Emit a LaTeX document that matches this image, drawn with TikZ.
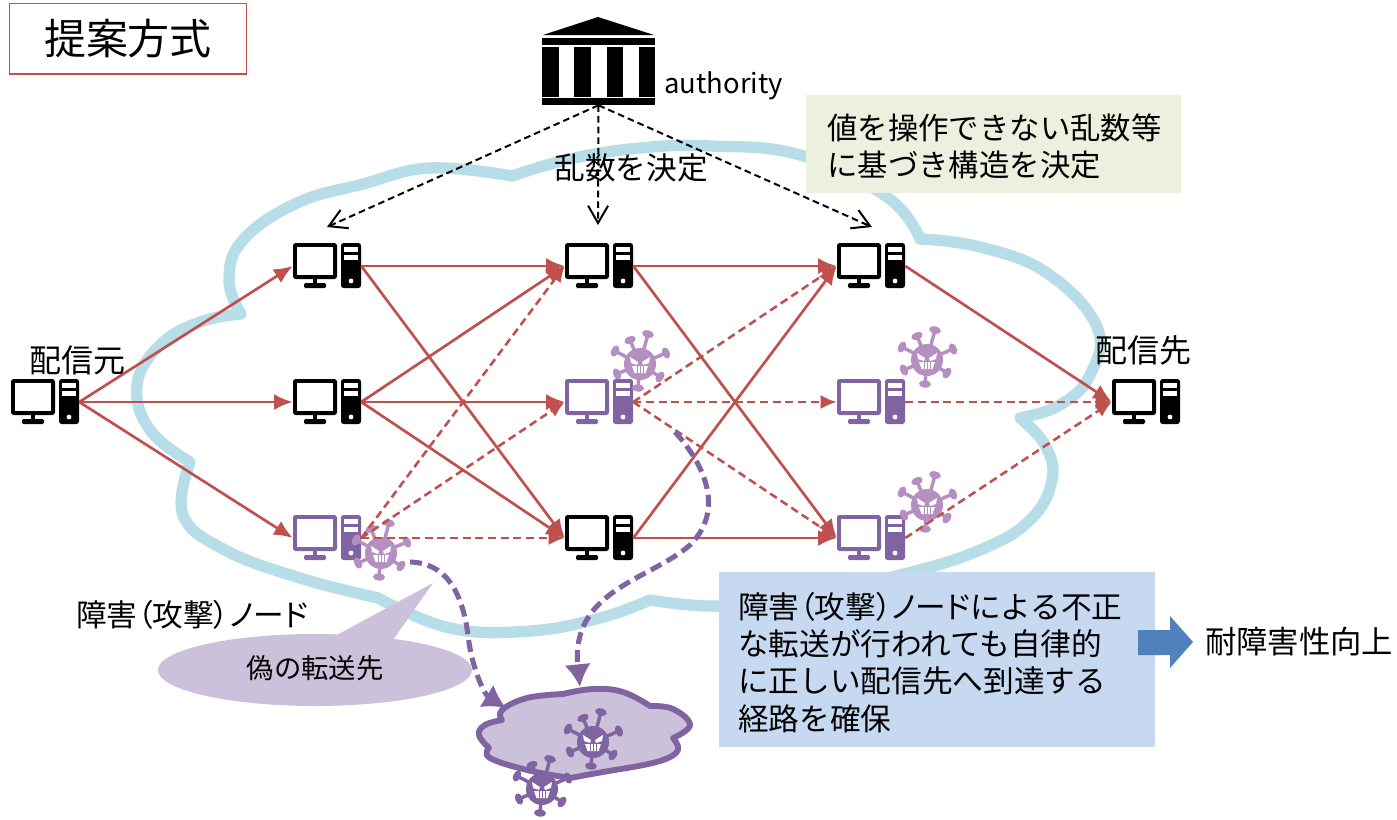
\documentclass[tikz,border=0pt]{standalone}
\usepackage{fontspec}
\setmainfont{Noto Sans CJK JP}
\newfontfamily\palt[RawFeature=+palt]{Noto Sans CJK JP}
\usetikzlibrary{arrows.meta}
\definecolor{redline}{HTML}{C0504D}
\definecolor{purpledark}{HTML}{8064A2}
\definecolor{purplelight}{HTML}{B48FC0}
\definecolor{purplepale}{HTML}{CCC1DA}
\definecolor{cloudblue}{HTML}{B7DDE8}
\definecolor{boxgreen}{HTML}{EBF1DE}
\definecolor{boxblue}{HTML}{C6D9F1}
\definecolor{arrowblue}{HTML}{4F81BD}
\newcommand{\pp}[1]{{\palt #1}}

\begin{document}
\begin{tikzpicture}[
 x=0.75pt,y=-0.75pt,
 >={Latex[length=14pt,width=12pt]},
 inner sep=0pt,
 txt/.style={font=\fontsize{23}{28}\selectfont},
 pcbox/.style={rectangle,minimum width=51pt,minimum height=34pt},
 route/.style={redline,line width=2pt,->},
 fakeroute/.style={redline,line width=1.9pt,dash pattern=on 6pt off 3.5pt,-{Latex[length=12pt,width=10.5pt]}},
 decide/.style={black,line width=1.5pt,dash pattern=on 5pt off 3pt,-{Straight Barb[length=13pt,width=15pt]}},
 attack/.style={purpledark,line width=3.8pt,dash pattern=on 9pt off 4.5pt,-{Latex[length=17pt,width=20pt]}},
 note/.style={rectangle,align=left,txt,text depth=0pt},
 pc/.pic={
  \fill[#1,rounded corners=2pt] (-34,-23) rectangle (10,13);
  \fill[white] (-30,-19) rectangle (6,9);
  \fill[#1] (-14,13) rectangle (-10,18);
  \fill[#1,rounded corners=1pt] (-23,17) rectangle (-1,22);
  \fill[#1,rounded corners=2pt] (14,-23) rectangle (34,22);
  \fill[white] (17,-19) rectangle (31,-14);
  \fill[white] (17,-11) rectangle (31,-6);
  \fill[white] (24,15) circle (2.4);
 },
 virus/.pic={
  \foreach \tipx/\tipy in {8/-30,-10/-24,-25/-13,-23/10,-2/24,20/13,26/-11}{
   \draw[#1,line width=2.6pt] (0,0) -- (\tipx,\tipy);
   \pgfmathsetmacro\tipang{atan2(-\tipy,\tipx)}
   \fill[#1,shift={(\tipx,\tipy)},rotate=\tipang] (0,0) ellipse (3.6 and 6);
  }
  \fill[#1] (0,0) circle (16);
  \fill[white] (-10,-7) -- (-2,-2) -- (-3,1) -- (-9,-1) -- cycle;
  \fill[white] (10,-7) -- (2,-2) -- (3,1) -- (9,-1) -- cycle;
  \fill[white] (-8,2) -- (8,2) -- (5.5,9) -- (-5.5,9) -- cycle;
  \foreach \toothx in {-3,0,3}{
   \draw[#1,line width=.5pt] (\toothx,2) -- (\toothx,9);
  }
 }
]
\useasboundingbox (0,0) rectangle (1397,819);

% network cloud
\draw[cloudblue,line width=8.5pt,line join=round,line cap=round]
 plot[smooth,tension=.7] coordinates {(241,314) (229,280) (243,240) (297,203) (363,184) (430,168) (512,176)}
 -- plot[smooth,tension=.7] coordinates {(512,176) (570,159) (640,148) (710,146) (800,155) (887,197) (920,239)}
 -- plot[smooth,tension=.7] coordinates {(920,239) (980,247) (1047,273) (1097,327) (1090,375) (1060,405) (1020,418)}
 -- plot[smooth,tension=.7] coordinates {(1020,418) (1045,445) (1052,480) (1030,520) (980,550) (900,575) (800,595) (720,606) (650,600)}
 -- plot[smooth,tension=.7] coordinates {(650,600) (600,618) (530,631) (450,628) (378,598)}
 -- plot[smooth,tension=.7] coordinates {(378,598) (300,578) (225,550) (183,515) (190,462)}
 -- plot[smooth,tension=.7] coordinates {(190,462) (150,430) (137,385) (160,345) (200,322) (241,314)};

% title and authority
\node (title) [draw=redline,line width=1pt,rectangle,minimum width=178pt,minimum height=53pt,font=\fontsize{31.5}{36}\selectfont] at (128,38.5) {提案方式};
\node (bank) [rectangle,minimum width=85pt,minimum height=66pt] at (598.5,61) {};
\fill (543,35) -- (598,17) -- (654,35) -- cycle;
\fill (542,38) rectangle (655,45);
\fill (542,47) rectangle (559,97);
\fill (574,47) rectangle (591,97);
\fill (607,47) rectangle (623,97);
\fill (639,47) rectangle (655,97);
\fill (542,98) rectangle (655,105);
\node (authority) [anchor=west,font=\fontsize{20.6}{24}\selectfont] at (664,86) {authority};

% computers
\node (src) [pcbox] at (45,402) {};
\node (a1) [pcbox] at (327,266) {};
\node (a2) [pcbox] at (327,402) {};
\node (a3) [pcbox] at (327,538) {};
\node (b1) [pcbox] at (599,266) {};
\node (b2) [pcbox] at (599,402) {};
\node (b3) [pcbox] at (599,538) {};
\node (c1) [pcbox] at (871,266) {};
\node (c2) [pcbox] at (871,402) {};
\node (c3) [pcbox] at (871,538) {};
\node (dst) [pcbox] at (1146,402) {};
\pic at (src) {pc=black};
\pic at (a1) {pc=black};
\pic at (a2) {pc=black};
\pic at (a3) {pc=purpledark};
\pic at (b1) {pc=black};
\pic at (b2) {pc=purpledark};
\pic at (b3) {pc=black};
\pic at (c1) {pc=black};
\pic at (c2) {pc=purpledark};
\pic at (c3) {pc=purpledark};
\pic at (dst) {pc=black};

% attacked nodes
\pic at (640,364) {virus=purplelight};
\pic at (927,360) {virus=purplelight};
\pic at (927,505) {virus=purplelight};
\pic at (381,553) {virus=purplelight};

% authority decides the structure
\coordinate (a1top) at (327,227);
\coordinate (b1top) at (598,225);
\coordinate (c1top) at (872,227);
\draw[decide] (bank.south) -- (a1top);
\draw[decide] (bank.south) -- (b1top);
\draw[decide] (bank.south) -- (c1top);
\node (random) [txt] at (631,168) {乱数を決定};

% delivery routes
\draw[route] (src.east) -- (a1.west);
\draw[route] (src.east) -- (a2.west);
\draw[route] (src.east) -- (a3.west);
\draw[route] (a1.east) -- (b1.west);
\draw[route] (a1.east) -- (b3.west);
\draw[route] (a2.east) -- (b1.west);
\draw[route] (a2.east) -- (b2.west);
\draw[route] (a2.east) -- (b3.west);
\draw[fakeroute] (a3.east) -- (b1.west);
\draw[fakeroute] (a3.east) -- (b2.west);
\draw[fakeroute] (a3.east) -- (b3.west);
\draw[route] (b1.east) -- (c1.west);
\draw[route] (b1.east) -- (c3.west);
\draw[fakeroute] (b2.east) -- (c1.west);
\draw[fakeroute] (b2.east) -- (c2.west);
\draw[fakeroute] (b2.east) -- (c3.west);
\draw[route] (b3.east) -- (c1.west);
\draw[route] (b3.east) -- (c3.west);
\draw[route] (c1.east) -- (dst.west);
\draw[fakeroute] (c2.east) -- (dst.west);
\draw[fakeroute] (c3.east) -- (dst.west);

\node (srclabel) [txt,font=\fontsize{24}{28}\selectfont] at (78,360) {配信元};
\node (dstlabel) [txt,font=\fontsize{24}{28}\selectfont] at (1143,350) {配信先};
\node (badlabel) [txt] at (192,615) {障害\pp{（}攻撃\pp{）ノード}};

% fake destination
\fill[purplepale] (315,670) ellipse (157 and 36);
\fill[purplepale] (335,636) -- (433,583) -- (393,640) -- cycle;
\node (fakelabel) [font=\fontsize{20.5}{24}\selectfont] at (315,668) {偽の転送先};
\draw[purpledark,fill=purplepale,line width=4.4pt,line join=round]
 plot[smooth,tension=.7] coordinates {(502,720) (502,710) (527,698) (563,694)}
 -- plot[smooth,tension=.7] coordinates {(563,694) (593,689) (623,692) (650,706)}
 -- plot[smooth,tension=.7] coordinates {(650,706) (673,709) (690,725) (673,738)}
 -- plot[smooth,tension=.7] coordinates {(673,738) (678,750) (663,760) (633,767)}
 -- plot[smooth,tension=.7] coordinates {(633,767) (603,772) (570,778)}
 -- plot[smooth,tension=.7] coordinates {(570,778) (527,770) (490,758) (489,748)}
 -- plot[smooth,tension=.7] coordinates {(489,748) (479,735) (485,725) (502,720)} -- cycle;
\pic at (593,742) {virus=purpledark};
\pic at (542,789) {virus=purpledark};
\coordinate (virusa) at (410,562);
\coordinate (cloudtop) at (506,708);
\coordinate (virusb) at (675,432);
\coordinate (cloudtopb) at (580,687);
\draw[attack] (virusa) .. controls (445,563) and (462,590) .. (468,635) .. controls (472,670) and (485,695) .. (cloudtop);
\draw[attack] (virusb) .. controls (705,465) and (725,510) .. (690,545) .. controls (650,580) and (570,590) .. (cloudtopb);

% notes
\node (greennote) [note,fill=boxgreen,minimum width=281pt,minimum height=73pt,anchor=north west] at (806,95) {};
\node (greentext) [note,anchor=west,font=\fontsize{22.8}{28}\selectfont] at (827,145) {値を操作できない乱数等\\に基づき構造を決定};
\node (bluenote) [note,fill=boxblue,minimum width=327pt,minimum height=131pt,anchor=north west] at (719,572) {};
\node (bluetext) [note,anchor=west] at (738,661) {障害\pp{（}攻撃\pp{）ノード}による不正\\な転送が行われても自律的\\に正しい配信先へ到達する\\経路を確保};
\fill[arrowblue] (1138,630) -- (1170,630) -- (1170,616) -- (1193,642) -- (1170,668) -- (1170,655) -- (1138,655) -- cycle;
\node (result) [txt,anchor=west,font=\fontsize{23.5}{28}\selectfont] at (1205,642) {耐障害性向上};
\end{tikzpicture}
\end{document}
